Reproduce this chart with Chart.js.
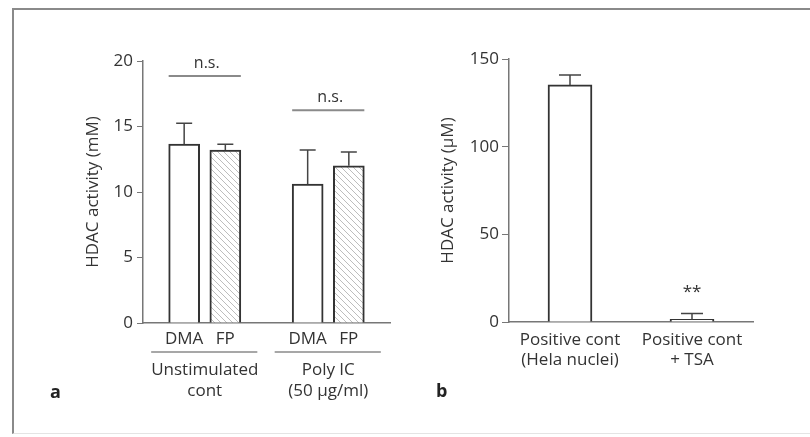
<!DOCTYPE html>
<html>
<head>
<meta charset="utf-8">
<script src="https://cdn.jsdelivr.net/npm/chart.js@4/dist/chart.umd.min.js"></script>
<style>
  html, body { margin: 0; padding: 0; background: #fff; }
  #wrap { position: relative; width: 810px; height: 437px; overflow: hidden; background: #fff; }
  canvas { position: absolute; left: 0; top: 0; }
  .frame { position: absolute; left: 12px; top: 8px; width: 798px; height: 426px;
           border-top: 2px solid #8a8a8a; border-left: 2px solid #8a8a8a; border-bottom: 1px solid #e4e4e4; box-sizing: border-box; }
  .panel { position: absolute; font-family: "Open Sans", sans-serif; font-weight: bold; font-size: 18px; color: #222; }
</style>
</head>
<body>
<div id="wrap">
  <div class="frame"></div>
  <canvas id="ca" width="810" height="437"></canvas>
  <canvas id="cb" width="810" height="437"></canvas>
  <div class="panel" style="left:50px; top:379px;">a</div>
  <div class="panel" style="left:436px; top:378px;">b</div>
</div>
<script>
// ---------- Panel a data ----------
const seriesNames = ['DMA', 'FP'];
const groupLabels = [['Unstimulated', 'cont'], ['Poly IC', '(50 µg/ml)']];
const dmaValues = [13.65, 10.6];
const dmaErrors = [1.6, 2.6];
const fpValues = [13.2, 12.0];
const fpErrors = [0.45, 1.05];
const nsLevels = [18.85, 16.25];
const nsText = ['n.s.', 'n.s.'];
const yTicksA = [0, 5, 10, 15, 20];

// ---------- Panel b data ----------
const bLabels = [['Positive cont', '(Hela nuclei)'], ['Positive cont', '+ TSA']];
const bValues = [135.2, 1.5];
const bErrors = [5.7, 3.3];
const bSig = ['', '**'];
const yTicksB = [0, 50, 100, 150];

const FONT = '"Open Sans", sans-serif';
const TXT = '#333';
const AXIS = '#777';
const BAR_EDGE = '#333';
const FS = 17;

Chart.defaults.font.family = FONT;
Chart.defaults.font.size = FS;
Chart.defaults.color = TXT;

// hatch pattern
function makeHatch() {
  const s = 6;
  const pc = document.createElement('canvas');
  pc.width = s; pc.height = s;
  const g = pc.getContext('2d');
  g.fillStyle = '#fff'; g.fillRect(0, 0, s, s);
  g.strokeStyle = '#bdbdbd'; g.lineWidth = 1;
  g.beginPath();
  g.moveTo(-1, -1); g.lineTo(s + 1, s + 1);
  g.moveTo(-1, s - 1); g.lineTo(1, s + 1);
  g.moveTo(s - 1, -1); g.lineTo(s + 1, 1);
  g.stroke();
  return document.getElementById('ca').getContext('2d').createPattern(pc, 'repeat');
}
const hatch = makeHatch();

// error bar plugin
function errorBarPlugin(errorsByDataset, capHalf) {
  return {
    id: 'errbars',
    afterDatasetsDraw(chart) {
      const ctx = chart.ctx;
      const ys = chart.scales.y;
      ctx.save();
      ctx.strokeStyle = '#444';
      ctx.lineWidth = 1.5;
      chart.data.datasets.forEach((ds, di) => {
        const meta = chart.getDatasetMeta(di);
        meta.data.forEach((el, i) => {
          const v = typeof ds.data[i] === 'object' ? ds.data[i].y : ds.data[i];
          const top = ys.getPixelForValue(v + errorsByDataset[di][i]);
          ctx.beginPath();
          ctx.moveTo(el.x, el.y);
          ctx.lineTo(el.x, top);
          ctx.moveTo(el.x - capHalf, top);
          ctx.lineTo(el.x + capHalf, top);
          ctx.stroke();
        });
      });
      ctx.restore();
    }
  };
}

function fixedAxis(w, h) {
  return function (scale) {
    if (w !== null) scale.width = w;
    if (h !== null) scale.height = h;
  };
}

// ---------- Chart a ----------
const xPos = (g, s) => g * 3 + s;
const annotA = {
  id: 'annotA',
  afterDraw(chart) {
    const ctx = chart.ctx;
    const xs = chart.scales.x, ys = chart.scales.y;
    const bottom = chart.chartArea.bottom;
    const halfBar = 15.5;
    ctx.save();
    groupLabels.forEach((lab, g) => {
      const x0 = xs.getPixelForValue(xPos(g, 0));
      const x1 = xs.getPixelForValue(xPos(g, 1));
      // n.s. bracket
      const yn = ys.getPixelForValue(nsLevels[g]);
      ctx.strokeStyle = '#8a8a8a'; ctx.lineWidth = 2;
      ctx.beginPath(); ctx.moveTo(x0 - halfBar, yn); ctx.lineTo(x1 + halfBar, yn); ctx.stroke();
      ctx.fillStyle = TXT; ctx.font = '16px ' + FONT;
      ctx.textAlign = 'center'; ctx.textBaseline = 'middle';
      ctx.fillText(nsText[g], (x0 + x1) / 2 + 2, yn - 13);
      // group underline
      ctx.strokeStyle = '#8a8a8a'; ctx.lineWidth = 1.5;
      ctx.beginPath(); ctx.moveTo(x0 - 33, bottom + 29); ctx.lineTo(x1 + 32, bottom + 29); ctx.stroke();
      // group label
      ctx.font = FS + 'px ' + FONT;
      lab.forEach((t, li) => ctx.fillText(t, (x0 + x1) / 2, bottom + 47 + li * 21));
    });
    ctx.restore();
  }
};

new Chart(document.getElementById('ca'), {
  type: 'bar',
  data: {
    datasets: [
      {
        label: seriesNames[0],
        data: dmaValues.map((v, g) => ({ x: xPos(g, 0), y: v })),
        backgroundColor: '#fff', borderColor: BAR_EDGE, borderWidth: 2,
        barThickness: 31, grouped: false
      },
      {
        label: seriesNames[1],
        data: fpValues.map((v, g) => ({ x: xPos(g, 1), y: v })),
        backgroundColor: hatch, borderColor: BAR_EDGE, borderWidth: 2,
        barThickness: 31, grouped: false
      }
    ]
  },
  options: {
    responsive: false, animation: false, devicePixelRatio: 1,
    layout: { padding: { left: 79, top: 61, right: 420, bottom: 54 } },
    plugins: { legend: { display: false }, tooltip: { enabled: false } },
    scales: {
      x: {
        type: 'linear', min: -1, max: 5, offset: false,
        grid: { display: false, drawTicks: false },
        border: { display: true, color: AXIS, width: 1.5 },
        ticks: {
          stepSize: 1, autoSkip: false, maxRotation: 0, padding: 6,
          font: { size: FS, lineHeight: 1.2 },
          callback: (v) => {
            if (v < 0 || v > 4) return '';
            const s = v % 3;
            return s < 2 ? seriesNames[s] : '';
          }
        },
        afterFit: fixedAxis(null, 60)
      },
      y: {
        min: 0, max: 20,
        afterBuildTicks: (scale) => { scale.ticks = yTicksA.map(v => ({ value: v })); },
        grid: { drawOnChartArea: false, drawTicks: true, tickLength: 6, color: AXIS, lineWidth: 1 },
        border: { display: true, color: AXIS, width: 1.5 },
        ticks: { padding: 4, font: { size: FS } },
        title: { display: true, text: 'HDAC activity (mM)', font: { size: FS }, color: TXT },
        afterFit: fixedAxis(64, null)
      }
    }
  },
  plugins: [errorBarPlugin([dmaErrors, fpErrors], 8), annotA]
});

// ---------- Chart b ----------
const annotB = {
  id: 'annotB',
  afterDraw(chart) {
    const ctx = chart.ctx;
    const ys = chart.scales.y;
    const meta = chart.getDatasetMeta(0);
    ctx.save();
    ctx.fillStyle = TXT; ctx.font = FS + 'px ' + FONT;
    ctx.textAlign = 'center'; ctx.textBaseline = 'middle';
    meta.data.forEach((el, i) => {
      if (!bSig[i]) return;
      const top = ys.getPixelForValue(bValues[i] + bErrors[i]);
      ctx.fillText(bSig[i], el.x, top - 21);
    });
    ctx.restore();
  }
};

new Chart(document.getElementById('cb'), {
  type: 'bar',
  data: {
    labels: bLabels,
    datasets: [{
      data: bValues,
      backgroundColor: '#fff', borderColor: BAR_EDGE, borderWidth: 2,
      barThickness: 44
    }]
  },
  options: {
    responsive: false, animation: false, devicePixelRatio: 1,
    layout: { padding: { left: 434, top: 59, right: 57, bottom: 55 } },
    plugins: { legend: { display: false }, tooltip: { enabled: false } },
    scales: {
      x: {
        grid: { display: false, drawTicks: false },
        border: { display: true, color: AXIS, width: 1.5 },
        ticks: { padding: 8, maxRotation: 0, autoSkip: false, font: { size: FS, lineHeight: 1.2 } },
        afterFit: fixedAxis(null, 60)
      },
      y: {
        min: 0, max: 150,
        afterBuildTicks: (scale) => { scale.ticks = yTicksB.map(v => ({ value: v })); },
        grid: { drawOnChartArea: false, drawTicks: true, tickLength: 7, color: AXIS, lineWidth: 1 },
        border: { display: true, color: AXIS, width: 1.5 },
        ticks: { padding: 3, font: { size: FS } },
        title: { display: true, text: 'HDAC activity (µM)', font: { size: FS }, color: TXT },
        afterFit: fixedAxis(75, null)
      }
    }
  },
  plugins: [errorBarPlugin([bErrors], 11), annotB]
});
</script>
</body>
</html>
